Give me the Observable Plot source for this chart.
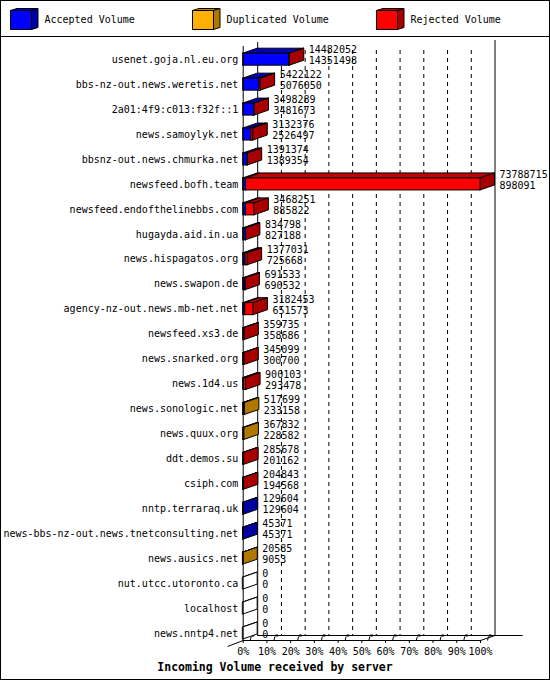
<!DOCTYPE html>
<html>
<head>
<meta charset="utf-8">
<script src="https://cdn.jsdelivr.net/npm/d3@7"></script>
<script src="https://cdn.jsdelivr.net/npm/@observablehq/plot@0.6"></script>
<style>
  html, body { margin: 0; padding: 0; background: white; }
  #wrap { position: relative; width: 550px; height: 680px; box-sizing: border-box; border: 1px solid black; background: white; overflow: hidden; }
  #legend { position: relative; height: 35px; border-bottom: 1px solid black; font-family: "DejaVu Sans Mono", monospace; font-size: 10px; }
  #legend span { position: absolute; top: 13px; line-height: 12px; white-space: nowrap; }
  #legend svg { position: absolute; top: 6px; }
  #chart svg { display: block; }
  #caption { height: 21px; line-height: 19px; text-align: center; font-family: "DejaVu Sans Mono", monospace; font-weight: bold; font-size: 11.5px; }
</style>
</head>
<body>
<div id="wrap">
  <div id="legend"></div>
  <div id="chart"></div>
  <div id="caption"></div>
</div>
<script>
// ---- data ----
const servers = [
  "usenet.goja.nl.eu.org",
  "bbs-nz-out.news.weretis.net",
  "2a01:4f9:c013:f32f::1",
  "news.samoylyk.net",
  "bbsnz-out.news.chmurka.net",
  "newsfeed.bofh.team",
  "newsfeed.endofthelinebbs.com",
  "hugayda.aid.in.ua",
  "news.hispagatos.org",
  "news.swapon.de",
  "agency-nz-out.news.mb-net.net",
  "newsfeed.xs3.de",
  "news.snarked.org",
  "news.1d4.us",
  "news.sonologic.net",
  "news.quux.org",
  "ddt.demos.su",
  "csiph.com",
  "nntp.terraraq.uk",
  "news-bbs-nz-out.news.tnetconsulting.net",
  "news.ausics.net",
  "nut.utcc.utoronto.ca",
  "localhost",
  "news.nntp4.net"
];
const totalVolume = [
  14482052, 5422122, 3498289, 3132376, 1391374, 73788715, 3468251, 834798,
  1377031, 691533, 3182453, 359735, 345099, 900103, 517699, 367832,
  285678, 204843, 129604, 45371, 20585, 0, 0, 0
];
const acceptedVolume = [
  14351498, 5076050, 3481673, 2526497, 1389354, 898091, 885822, 827188,
  725668, 690532, 651573, 358686, 300700, 293478, 233158, 228582,
  201162, 194568, 129604, 45371, 9053, 0, 0, 0
];
// kind of the non-accepted remainder of each row
const remainderKind = [
  "rejected", "rejected", "rejected", "rejected", "rejected", "rejected", "rejected", "rejected",
  "rejected", "rejected", "rejected", "rejected", "rejected", "rejected", "duplicated", "duplicated",
  "rejected", "rejected", "rejected", "rejected", "duplicated", "rejected", "rejected", "rejected"
];
const seriesNames = ["Accepted Volume", "Duplicated Volume", "Rejected Volume"];
const seriesKeys = ["accepted", "duplicated", "rejected"];
const xTicks = [0, 10, 20, 30, 40, 50, 60, 70, 80, 90, 100];
const captionText = "Incoming Volume received by server";

// ---- styles ----
const frontColor = {accepted: "#0000ff", duplicated: "#ffb000", rejected: "#ff0000", none: "#ffffff"};
const topColor = {accepted: "#0000b4", duplicated: "#c08800", rejected: "#c00000", none: "#ffffff"};
const sideColor = {accepted: "#0000a0", duplicated: "#b07800", rejected: "#a80000", none: "#ffffff"};

// ---- layout (pixels) ----
const W = 548, H = 621;
const X0 = 241.7, X1 = 479;           // 0% and 100% front
const Y0 = 22.2, Y1 = 596;            // first/last row centers
const pxPerPct = (X1 - X0) / 100;
const pxPerRow = (Y1 - Y0) / (servers.length - 1);
const DX = 14.5 / pxPerPct;           // 3D depth, x units
const DY = 5 / pxPerRow;              // 3D depth, y units
const HH = 6 / pxPerRow;              // half bar height
const yU = px => (px - Y0) / pxPerRow;
const floorFront = yU(603), floorBack = yU(598);

// ---- derived ----
const maxTotal = d3.max(totalVolume);
const pct = v => v / maxTotal * 100;
const rows = servers.map((s, i) => ({
  i, server: s, total: totalVolume[i], acc: acceptedVolume[i],
  t: pct(totalVolume[i]), a: pct(acceptedVolume[i]),
  last: totalVolume[i] === 0 ? "none" : (totalVolume[i] > acceptedVolume[i] ? remainderKind[i] : "accepted")
}));
const segments = [];
rows.forEach(r => {
  if (r.acc > 0) segments.push({i: r.i, kind: "accepted", x1: 0, x2: r.a});
  if (r.total > r.acc) segments.push({i: r.i, kind: remainderKind[r.i], x1: r.a, x2: r.t});
  if (r.total === 0) segments.push({i: r.i, kind: "none", x1: 0, x2: 0});
});
const topPts = [];
segments.forEach((s, k) => {
  topPts.push({k, y: s.i - HH, xa: s.x1, xb: s.x2, fill: topColor[s.kind]});
  topPts.push({k, y: s.i - HH - DY, xa: s.x1 + DX, xb: s.x2 + DX, fill: topColor[s.kind]});
});
const sidePts = [];
rows.forEach(r => {
  sidePts.push({i: r.i, x: r.t, ya: r.i - HH, yb: r.i + HH, fill: sideColor[r.last]});
  sidePts.push({i: r.i, x: r.t + DX, ya: r.i - HH - DY, yb: r.i + HH - DY, fill: sideColor[r.last]});
});
const gridTicks = xTicks.filter(v => v > 0 && v < 100);

const chart = Plot.plot({
  width: W, height: H,
  marginLeft: X0, marginRight: W - X1, marginTop: 0, marginBottom: H - 603,
  style: {fontFamily: "DejaVu Sans Mono", fontSize: "10px", background: "white", color: "black", overflow: "visible"},
  x: {domain: [0, 100], range: [X0, X1], ticks: xTicks, tickFormat: d => d + "%", tickSize: 3, tickPadding: 4, label: null},
  y: {domain: [0, servers.length - 1], range: [Y0, Y1], ticks: rows.map(r => r.i), tickFormat: i => servers[i], tickSize: 0, tickPadding: 5, label: null},
  color: {type: "identity"},
  marks: [
    // back grid
    Plot.ruleX(gridTicks, {x: d => d + DX, y1: yU(50 - 37), y2: floorBack, stroke: "black", strokeDasharray: "4,4"}),
    Plot.ruleX([DX], {x: d => d, y1: yU(42 - 37), y2: floorBack, stroke: "black"}),
    Plot.ruleX([100 + DX], {x: d => d, y1: yU(40 - 37), y2: floorBack, stroke: "black"}),
    Plot.ruleY([floorBack], {y: d => d, x1: DX, x2: 118, stroke: "black"}),
    // floor front + diagonals
    Plot.ruleY([floorFront], {y: d => d, x1: 0, x2: 100, stroke: "black"}),
    Plot.link([{x1: 100, y1: floorFront, x2: 100 + DX, y2: floorBack}, {x1: -6.6, y1: yU(609), x2: 0, y2: floorFront}],
      {x1: "x1", y1: "y1", x2: "x2", y2: "y2", stroke: "black"}),
    // floor tick decorations
    Plot.link(xTicks, {x1: d => d + 7 / pxPerPct, x2: d => d + 8 / pxPerPct, y1: floorFront, y2: yU(599), stroke: "black"}),
    Plot.rect(xTicks, {x1: d => d + 9 / pxPerPct, x2: d => d + 11.5 / pxPerPct, y1: yU(597.5), y2: yU(599.5), fill: "black"}),
    // bars
    Plot.areaX(topPts, {y: "y", x1: "xa", x2: "xb", z: "k", fill: "fill", stroke: "black", strokeWidth: 1}),
    Plot.areaY(sidePts, {x: "x", y1: "ya", y2: "yb", z: "i", fill: "fill", stroke: "black", strokeWidth: 1}),
    Plot.rect(segments.filter(s => s.kind !== "none"), {x1: "x1", x2: "x2", y1: d => d.i - HH, y2: d => d.i + HH, fill: d => frontColor[d.kind], stroke: "black", strokeWidth: 1}),
    // front axis
    Plot.ruleX([0], {x: d => d, y1: yU(46 - 37), y2: floorFront, stroke: "black"}),
    // value labels
    Plot.text(rows, {x: "t", y: "i", text: d => String(d.total), dx: 19, dy: -9.5, textAnchor: "start", fill: "black"}),
    Plot.text(rows, {x: "t", y: "i", text: d => String(d.acc), dx: 19, dy: 1.5, textAnchor: "start", fill: "black"})
  ]
});
document.getElementById("chart").appendChild(chart);
document.getElementById("caption").textContent = captionText;

// legend
const legend = document.getElementById("legend");
const legendLeft = [9, 191, 375];
seriesKeys.forEach((k, j) => {
  const ns = "http://www.w3.org/2000/svg";
  const svg = document.createElementNS(ns, "svg");
  svg.setAttribute("width", 30); svg.setAttribute("height", 25);
  svg.style.left = legendLeft[j] + "px";
  const poly = (pts, fill) => {
    const p = document.createElementNS(ns, "polygon");
    p.setAttribute("points", pts); p.setAttribute("fill", fill); p.setAttribute("stroke", "black");
    svg.appendChild(p);
  };
  poly("0.5,3.5 21.5,3.5 28,1.5 7,1.5", topColor[k]);
  poly("21.5,3.5 28,1.5 28,20.5 21.5,22.5", sideColor[k]);
  poly("0.5,3.5 21.5,3.5 21.5,22.5 0.5,22.5", frontColor[k]);
  legend.appendChild(svg);
  const sp = document.createElement("span");
  sp.textContent = seriesNames[j];
  sp.style.left = (legendLeft[j] + 34.5) + "px";
  legend.appendChild(sp);
});
</script>
</body>
</html>
